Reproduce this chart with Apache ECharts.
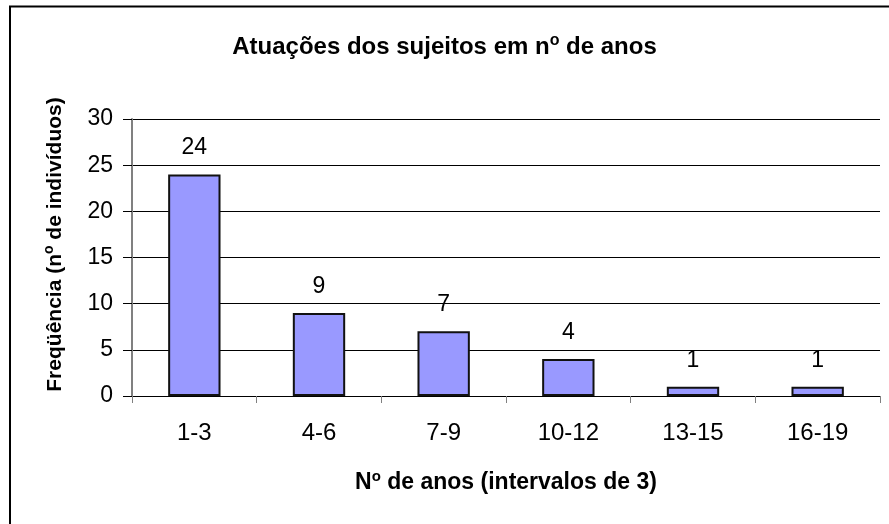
<!DOCTYPE html>
<html>
<head>
<meta charset="utf-8">
<script src="https://cdn.jsdelivr.net/npm/echarts@6/dist/echarts.min.js"></script>
<style>
  html, body { margin: 0; padding: 0; background: #fff; }
  #chart { width: 889px; height: 524px; }
</style>
</head>
<body>
<div id="chart"></div>
<script>
// dados
var categorias = ['1-3', '4-6', '7-9', '10-12', '13-15', '16-19'];
var frequencias = [24, 9, 7, 4, 1, 1];
var yMin = 0, yMax = 30, yStep = 5;

var fonte = '"Liberation Sans", Arial, sans-serif';
function sobrescrito(tam, pad) {
    return { fontSize: tam, fontWeight: 'bold', verticalAlign: 'top', padding: [0, 0, pad, 0], fontFamily: fonte, color: '#000' };
}

var myChart = echarts.init(document.getElementById('chart'));
var option = {
    animation: false,
    backgroundColor: '#fff',
    title: {
        text: 'Atuações dos sujeitos em n{s|o} de anos',
        left: 'center',
        top: 28,
        textStyle: {
            fontFamily: fonte,
            fontSize: 24,
            fontWeight: 'bold',
            color: '#000',
            rich: { s: sobrescrito(16, 12) }
        }
    },
    graphic: [{
        // moldura (só as bordas de cima e da esquerda aparecem)
        type: 'rect',
        shape: { x: 10, y: 6.5, width: 1000, height: 1000 },
        style: { fill: 'none', stroke: '#000', lineWidth: 2 },
        silent: true
    }],
    grid: { left: 132, right: 9, top: 119, bottom: 128 },
    xAxis: {
        type: 'category',
        data: categorias,
        name: 'N{s|o} de anos (intervalos de 3)',
        nameLocation: 'middle',
        nameGap: 73,
        nameTextStyle: {
            fontFamily: fonte, fontSize: 23, fontWeight: 'bold', color: '#000',
            rich: { s: sobrescrito(15, 12) }
        },
        axisLine: { lineStyle: { color: '#000', width: 1 } },
        axisTick: { show: true, alignWithLabel: false, length: 7, lineStyle: { color: '#808080' } },
        axisLabel: { margin: 25, fontFamily: fonte, fontSize: 24, color: '#000' }
    },
    yAxis: {
        type: 'value',
        min: yMin, max: yMax, interval: yStep,
        name: 'Freqüência (n{s|o} de indivíduos)',
        nameLocation: 'middle',
        nameGap: 64,
        nameTextStyle: {
            fontFamily: fonte, fontSize: 21, fontWeight: 'bold', color: '#000',
            padding: [0, 0, 0, 26],
            rich: { s: sobrescrito(14, 12) }
        },
        axisLine: { show: true, lineStyle: { color: '#808080', width: 2 } },
        axisTick: { show: true, length: 9, lineStyle: { color: '#000' } },
        axisLabel: { margin: 19, fontFamily: fonte, fontSize: 23, color: '#000' },
        splitLine: { show: true, lineStyle: { color: '#000', width: 1 } }
    },
    series: [{
        type: 'bar',
        data: frequencias,
        barWidth: '42%',
        itemStyle: { color: '#9999ff', borderColor: '#111', borderWidth: 2 },
        label: {
            show: true,
            position: 'top',
            distance: 15,
            fontFamily: fonte,
            fontSize: 23,
            color: '#000'
        }
    }]
};
myChart.setOption(option);
window.addEventListener('resize', function () {
    myChart.resize();
});
</script>
</body>
</html>
